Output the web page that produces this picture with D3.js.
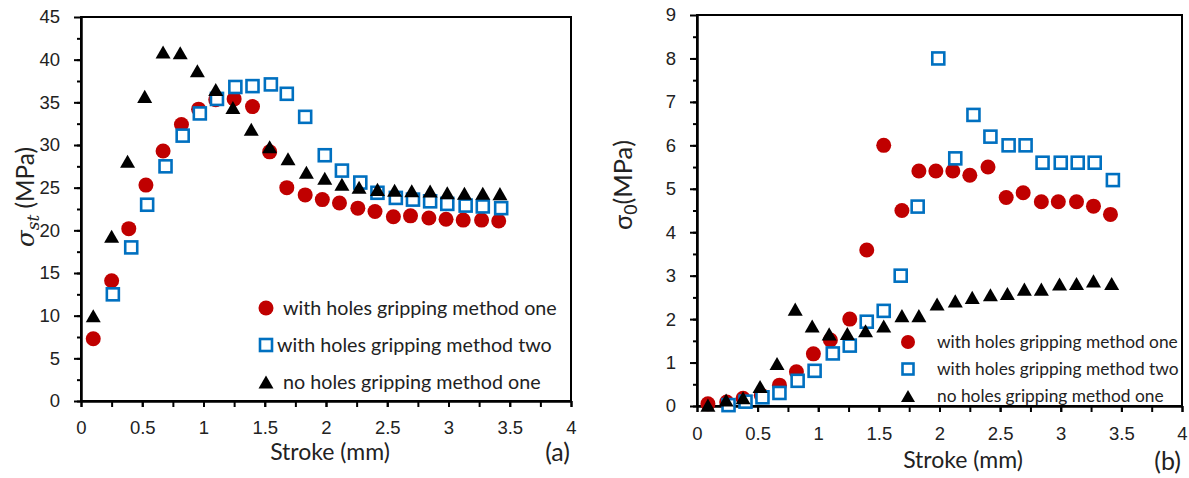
<!DOCTYPE html>
<meta charset="utf-8">
<title>Stroke vs stress</title>
<style>
body {
  margin: 0;
  background: #fff;
  font-family: 'Lato', 'Open Sans', sans-serif;
}
.axis text {
  font-size: 18.5px;
  fill: #222;
}
.axis .domain {
  stroke: #000;
  stroke-width: 2.5;
}
.axis .tick line {
  stroke: #000;
  stroke-width: 2;
}
.frame {
  fill: none;
  stroke: #000;
  stroke-width: 2;
}
.legend text {
  fill: #222;
}
</style>
<body>
<svg width="1189" height="478"></svg>
</body>
<script src="https://d3js.org/d3.v7.min.js"></script>
<script>
// ---- data ----
var xTicks = [0, 0.5, 1, 1.5, 2, 2.5, 3, 3.5, 4];
var seriesNames = ["with holes gripping method one", "with holes gripping method two", "no holes gripping method one"];

// panel (a): sigma_st
var aRedX   = [0.10,0.25,0.39,0.53,0.67,0.82,0.96,1.10,1.25,1.40,1.54,1.68,1.83,1.97,2.11,2.26,2.40,2.55,2.69,2.84,2.98,3.12,3.27,3.41];
var aRedY   = [7.3,14.1,20.2,25.3,29.3,32.4,34.2,35.3,35.4,34.5,29.2,25.0,24.15,23.6,23.2,22.6,22.2,21.6,21.7,21.45,21.3,21.2,21.2,21.1];
var aBlueX  = [0.26,0.41,0.54,0.69,0.83,0.97,1.11,1.26,1.40,1.55,1.68,1.83,1.99,2.13,2.28,2.42,2.57,2.71,2.85,2.99,3.14,3.28,3.43];
var aBlueY  = [12.5,18.0,23.0,27.5,31.1,33.7,35.4,36.8,36.9,37.1,36.0,33.3,28.8,27.0,25.6,24.4,23.8,23.6,23.4,23.1,22.9,22.8,22.6];
var aBlackX = [0.10,0.25,0.38,0.52,0.67,0.81,0.95,1.10,1.24,1.39,1.54,1.69,1.84,1.99,2.13,2.27,2.42,2.56,2.70,2.85,2.99,3.13,3.28,3.42];
var aBlackY = [10.0,19.3,28.1,35.7,40.9,40.8,38.7,36.5,34.4,31.85,29.8,28.4,26.8,26.1,25.4,25.05,24.8,24.7,24.65,24.6,24.4,24.35,24.35,24.3];
var aYTicks = [0, 5, 10, 15, 20, 25, 30, 35, 40, 45];

// panel (b): sigma_0
var bRedX   = [0.09,0.245,0.38,0.53,0.68,0.82,0.96,1.10,1.26,1.40,1.54,1.69,1.83,1.97,2.11,2.25,2.40,2.55,2.69,2.84,2.98,3.13,3.27,3.41];
var bRedY   = [0.05,0.09,0.18,0.25,0.48,0.79,1.2,1.52,2.0,3.59,6.0,4.5,5.41,5.41,5.41,5.31,5.5,4.8,4.91,4.7,4.7,4.7,4.6,4.41];
var bBlueX  = [0.26,0.40,0.54,0.68,0.83,0.97,1.12,1.26,1.40,1.54,1.68,1.82,1.99,2.13,2.28,2.42,2.57,2.71,2.85,3.00,3.14,3.28,3.43];
var bBlueY  = [0.02,0.1,0.2,0.3,0.58,0.81,1.21,1.39,1.94,2.19,3.0,4.59,8.0,5.7,6.7,6.2,6.0,6.0,5.6,5.6,5.6,5.6,5.2];
var bBlackX = [0.09,0.24,0.38,0.52,0.66,0.81,0.95,1.09,1.24,1.39,1.54,1.69,1.83,1.98,2.13,2.27,2.42,2.56,2.70,2.84,2.99,3.13,3.27,3.42];
var bBlackY = [0.02,0.14,0.19,0.45,0.98,2.23,1.84,1.66,1.67,1.73,1.84,2.08,2.08,2.35,2.42,2.50,2.56,2.59,2.69,2.69,2.81,2.82,2.88,2.82];
var bYTicks = [0, 1, 2, 3, 4, 5, 6, 7, 8, 9];

var red = "#c00000", blue = "#0070c0", black = "#000";

function zip(xs, ys) { return xs.map(function(x, i) { return {x: x, y: ys[i]}; }); }

var svg = d3.select("svg");

// scale a text's font so it spans roughly the wanted width (Calibri stand-in)
function fitFont(sel, width) {
  var fs = parseFloat(sel.style("font-size"));
  var len = sel.node().getComputedTextLength();
  var nfs = fs * width / len;
  sel.style("font-size", nfs + "px");
  return nfs;
}

// marker drawing helpers
function drawMarker(sel, kind, size) {
  if (kind === "circle") {
    sel.append("circle").attr("r", size / 2).attr("fill", red);
  } else if (kind === "square") {
    var s = size - 3;
    sel.append("rect").attr("x", -s / 2).attr("y", -s / 2).attr("width", s).attr("height", s)
      .attr("fill", "#fff").attr("stroke", blue).attr("stroke-width", 2.6);
  } else {
    var w = size, h = size * 0.87;
    sel.append("path").attr("d", "M0," + (-h / 2) + "L" + (w / 2) + "," + (h / 2) + "L" + (-w / 2) + "," + (h / 2) + "Z")
      .attr("fill", black);
  }
}

function panel(p) {
  var x = d3.scaleLinear().domain([0, 4]).range([p.left, p.right]);
  var y = d3.scaleLinear().domain([0, p.ymax]).range([p.bottom, p.top]);
  var g = svg.append("g");

  g.append("rect").attr("class", "frame")
    .attr("x", p.left).attr("y", p.top)
    .attr("width", p.right - p.left).attr("height", p.bottom - p.top);

  // minor ticks
  g.append("g").attr("class", "axis")
    .attr("transform", "translate(" + p.left + ",0)")
    .call(d3.axisLeft(y).tickValues(d3.range(0, p.ymax, p.ymax / 18)).tickSize(4).tickFormat(""))
    .select(".domain").remove();
  g.append("g").attr("class", "axis")
    .attr("transform", "translate(0," + p.bottom + ")")
    .call(d3.axisBottom(x).tickValues(d3.range(0, 4.01, 0.25)).tickSize(6).tickFormat(""))
    .select(".domain").remove();

  // major ticks + labels
  g.append("g").attr("class", "axis")
    .attr("transform", "translate(" + p.left + ",0)")
    .call(d3.axisLeft(y).tickValues(p.yTicks).tickSize(7).tickPadding(14).tickSizeOuter(0).tickFormat(d3.format("d")));
  g.append("g").attr("class", "axis")
    .attr("transform", "translate(0," + p.bottom + ")")
    .call(d3.axisBottom(x).tickValues(xTicks).tickSize(6).tickPadding(p.xPad).tickSizeOuter(0).tickFormat(d3.format("")));

  // points: red, blue, black (black on top)
  var sets = [[p.red, "circle"], [p.blue, "square"], [p.black, "triangle"]];
  sets.forEach(function(s) {
    s[0].forEach(function(d) {
      var m = g.append("g").attr("transform", "translate(" + x(d.x) + "," + y(d.y) + ")");
      drawMarker(m, s[1], 15);
    });
  });

  // legend
  var lg = g.append("g").attr("class", "legend");
  var legFs = null;
  ["circle", "square", "triangle"].forEach(function(k, i) {
    var m = lg.append("g").attr("transform", "translate(" + p.legX + "," + p.legY[i] + ")");
    drawMarker(m, k, p.legMarker);
    var t = lg.append("text").attr("x", p.legX + p.legDx[i]).attr("y", p.legY[i]).attr("dy", "0.35em")
      .style("font-size", "16px").text(seriesNames[i]);
    if (legFs === null) legFs = fitFont(t, p.legWidth);
    else t.style("font-size", legFs + "px");
  });

  // axis titles
  g.append("text").attr("x", p.xTitleX).attr("y", p.xTitleY)
    .attr("text-anchor", "middle").style("font-size", "23px").attr("fill", "#222").text("Stroke (mm)");
  g.append("text").attr("x", p.right - 1).attr("y", p.tagY)
    .attr("text-anchor", "end").style("font-size", "25px").attr("fill", "#222").text(p.tag);

  var yt = g.append("text").attr("transform", "translate(" + p.yTitleX + "," + p.yTitleY + ") rotate(-90)")
    .attr("text-anchor", "middle").style("font-size", "22px").attr("fill", "#222");
  p.yTitle(yt);
  var len = yt.node().getComputedTextLength();
  yt.style("font-size", (22 * p.yTitleW / len) + "px");
}

panel({
  left: 81, right: 571, top: 17, bottom: 401, ymax: 45, yTicks: aYTicks, xPad: 14,
  red: zip(aRedX, aRedY), blue: zip(aBlueX, aBlueY), black: zip(aBlackX, aBlackY),
  legX: 266, legY: [308, 345, 382], legDx: [17, 11, 17], legMarker: 15, legWidth: 274,
  xTitleX: 330, xTitleY: 460, tag: "(a)", tagY: 461,
  yTitleX: 34, yTitleY: 197, yTitleW: 100,
  yTitle: function(t) {
    t.append("tspan").style("font-style", "italic").style("font-family", "'DejaVu Serif', serif").text("σ");
    t.append("tspan").style("font-style", "italic").style("font-size", "0.7em").style("font-family", "'DejaVu Serif', serif").attr("dy", 5).text("st");
    t.append("tspan").attr("dy", -5).text(" (MPa)");
  }
});

panel({
  left: 697, right: 1182, top: 15, bottom: 406, ymax: 9, yTicks: bYTicks, xPad: 15,
  red: zip(bRedX, bRedY), blue: zip(bBlueX, bBlueY), black: zip(bBlackX, bBlackY),
  legX: 908, legY: [342, 369, 396], legDx: [29, 29, 29], legMarker: 14, legWidth: 241,
  xTitleX: 963, xTitleY: 468, tag: "(b)", tagY: 470,
  yTitleX: 632, yTitleY: 185, yTitleW: 90,
  yTitle: function(t) {
    t.append("tspan").text("σ");
    t.append("tspan").style("font-size", "0.7em").attr("dy", 5).text("0");
    t.append("tspan").attr("dy", -5).text("(MPa)");
  }
});
</script>
